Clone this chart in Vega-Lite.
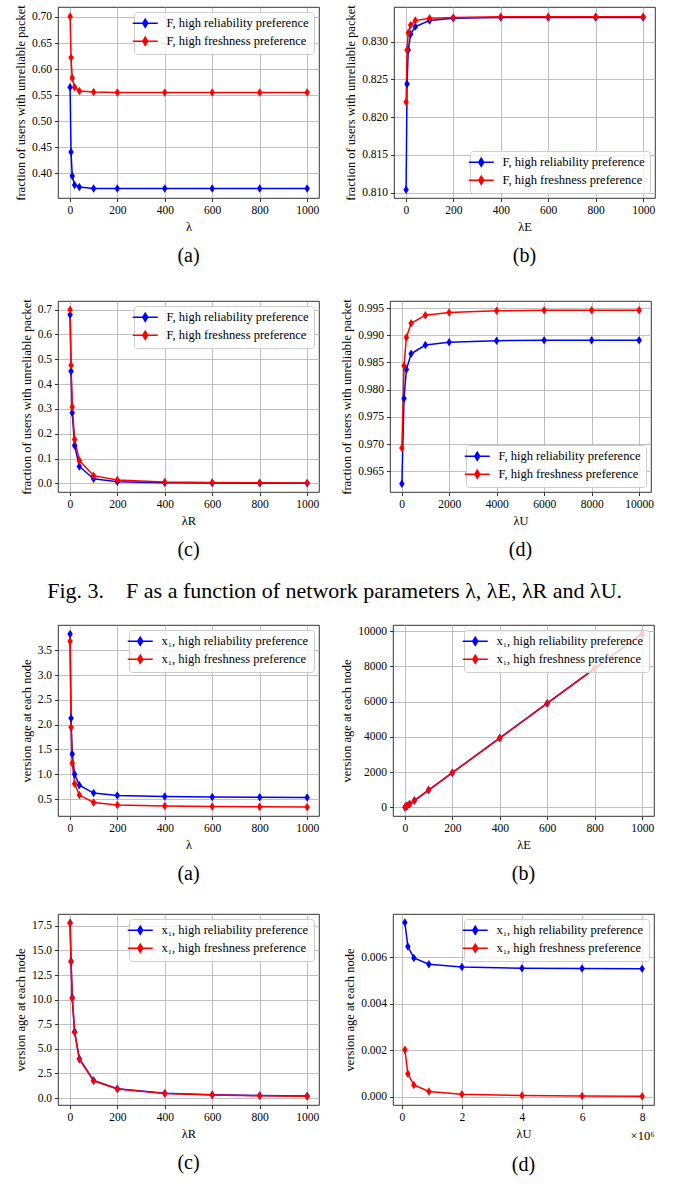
{
  "$schema": "https://vega.github.io/schema/vega-lite/v6.json",
  "padding": {"left": 13, "top": 4, "right": 5, "bottom": 5},
  "background": "white",
  "datasets": {
    "fA": [
      {"x": 1, "y": 0.565, "series": "F, high reliability preference"},
      {"x": 5, "y": 0.441, "series": "F, high reliability preference"},
      {"x": 10, "y": 0.395, "series": "F, high reliability preference"},
      {"x": 20, "y": 0.378, "series": "F, high reliability preference"},
      {"x": 40, "y": 0.374, "series": "F, high reliability preference"},
      {"x": 100, "y": 0.371, "series": "F, high reliability preference"},
      {"x": 200, "y": 0.371, "series": "F, high reliability preference"},
      {"x": 400, "y": 0.371, "series": "F, high reliability preference"},
      {"x": 600, "y": 0.371, "series": "F, high reliability preference"},
      {"x": 800, "y": 0.371, "series": "F, high reliability preference"},
      {"x": 1000, "y": 0.371, "series": "F, high reliability preference"},
      {"x": 1, "y": 0.701, "series": "F, high freshness preference"},
      {"x": 5, "y": 0.622, "series": "F, high freshness preference"},
      {"x": 10, "y": 0.583, "series": "F, high freshness preference"},
      {"x": 20, "y": 0.565, "series": "F, high freshness preference"},
      {"x": 40, "y": 0.558, "series": "F, high freshness preference"},
      {"x": 100, "y": 0.556, "series": "F, high freshness preference"},
      {"x": 200, "y": 0.555, "series": "F, high freshness preference"},
      {"x": 400, "y": 0.555, "series": "F, high freshness preference"},
      {"x": 600, "y": 0.555, "series": "F, high freshness preference"},
      {"x": 800, "y": 0.555, "series": "F, high freshness preference"},
      {"x": 1000, "y": 0.555, "series": "F, high freshness preference"}
    ],
    "fB": [
      {"x": 1, "y": 0.8104, "series": "F, high reliability preference"},
      {"x": 5, "y": 0.8244, "series": "F, high reliability preference"},
      {"x": 10, "y": 0.8289, "series": "F, high reliability preference"},
      {"x": 20, "y": 0.8310, "series": "F, high reliability preference"},
      {"x": 40, "y": 0.8320, "series": "F, high reliability preference"},
      {"x": 100, "y": 0.8328, "series": "F, high reliability preference"},
      {"x": 200, "y": 0.8331, "series": "F, high reliability preference"},
      {"x": 400, "y": 0.8332, "series": "F, high reliability preference"},
      {"x": 600, "y": 0.8332, "series": "F, high reliability preference"},
      {"x": 800, "y": 0.8332, "series": "F, high reliability preference"},
      {"x": 1000, "y": 0.8332, "series": "F, high reliability preference"},
      {"x": 1, "y": 0.8220, "series": "F, high freshness preference"},
      {"x": 5, "y": 0.8289, "series": "F, high freshness preference"},
      {"x": 10, "y": 0.8312, "series": "F, high freshness preference"},
      {"x": 20, "y": 0.8322, "series": "F, high freshness preference"},
      {"x": 40, "y": 0.8328, "series": "F, high freshness preference"},
      {"x": 100, "y": 0.8331, "series": "F, high freshness preference"},
      {"x": 200, "y": 0.8332, "series": "F, high freshness preference"},
      {"x": 400, "y": 0.8333, "series": "F, high freshness preference"},
      {"x": 600, "y": 0.8333, "series": "F, high freshness preference"},
      {"x": 800, "y": 0.8333, "series": "F, high freshness preference"},
      {"x": 1000, "y": 0.8333, "series": "F, high freshness preference"}
    ],
    "fC": [
      {"x": 1, "y": 0.680, "series": "F, high reliability preference"},
      {"x": 5, "y": 0.452, "series": "F, high reliability preference"},
      {"x": 10, "y": 0.284, "series": "F, high reliability preference"},
      {"x": 20, "y": 0.152, "series": "F, high reliability preference"},
      {"x": 40, "y": 0.068, "series": "F, high reliability preference"},
      {"x": 100, "y": 0.018, "series": "F, high reliability preference"},
      {"x": 200, "y": 0.006, "series": "F, high reliability preference"},
      {"x": 400, "y": 0.002, "series": "F, high reliability preference"},
      {"x": 600, "y": 0.001, "series": "F, high reliability preference"},
      {"x": 800, "y": 0.0005, "series": "F, high reliability preference"},
      {"x": 1000, "y": 0.0003, "series": "F, high reliability preference"},
      {"x": 1, "y": 0.700, "series": "F, high freshness preference"},
      {"x": 5, "y": 0.476, "series": "F, high freshness preference"},
      {"x": 10, "y": 0.308, "series": "F, high freshness preference"},
      {"x": 20, "y": 0.177, "series": "F, high freshness preference"},
      {"x": 40, "y": 0.092, "series": "F, high freshness preference"},
      {"x": 100, "y": 0.031, "series": "F, high freshness preference"},
      {"x": 200, "y": 0.013, "series": "F, high freshness preference"},
      {"x": 400, "y": 0.005, "series": "F, high freshness preference"},
      {"x": 600, "y": 0.003, "series": "F, high freshness preference"},
      {"x": 800, "y": 0.002, "series": "F, high freshness preference"},
      {"x": 1000, "y": 0.0015, "series": "F, high freshness preference"}
    ],
    "fD": [
      {"x": 10, "y": 0.9627, "series": "F, high reliability preference"},
      {"x": 100, "y": 0.9784, "series": "F, high reliability preference"},
      {"x": 200, "y": 0.9837, "series": "F, high reliability preference"},
      {"x": 400, "y": 0.9866, "series": "F, high reliability preference"},
      {"x": 1000, "y": 0.9882, "series": "F, high reliability preference"},
      {"x": 2000, "y": 0.9887, "series": "F, high reliability preference"},
      {"x": 4000, "y": 0.9890, "series": "F, high reliability preference"},
      {"x": 6000, "y": 0.9891, "series": "F, high reliability preference"},
      {"x": 8000, "y": 0.9891, "series": "F, high reliability preference"},
      {"x": 10000, "y": 0.9891, "series": "F, high reliability preference"},
      {"x": 10, "y": 0.9693, "series": "F, high freshness preference"},
      {"x": 100, "y": 0.9844, "series": "F, high freshness preference"},
      {"x": 200, "y": 0.9896, "series": "F, high freshness preference"},
      {"x": 400, "y": 0.9922, "series": "F, high freshness preference"},
      {"x": 1000, "y": 0.9937, "series": "F, high freshness preference"},
      {"x": 2000, "y": 0.9942, "series": "F, high freshness preference"},
      {"x": 4000, "y": 0.9945, "series": "F, high freshness preference"},
      {"x": 6000, "y": 0.9946, "series": "F, high freshness preference"},
      {"x": 8000, "y": 0.9946, "series": "F, high freshness preference"},
      {"x": 10000, "y": 0.9946, "series": "F, high freshness preference"}
    ],
    "fE": [
      {"x": 1, "y": 3.83, "series": "x₁, high reliability preference"},
      {"x": 5, "y": 2.13, "series": "x₁, high reliability preference"},
      {"x": 10, "y": 1.41, "series": "x₁, high reliability preference"},
      {"x": 20, "y": 1.00, "series": "x₁, high reliability preference"},
      {"x": 40, "y": 0.78, "series": "x₁, high reliability preference"},
      {"x": 100, "y": 0.62, "series": "x₁, high reliability preference"},
      {"x": 200, "y": 0.57, "series": "x₁, high reliability preference"},
      {"x": 400, "y": 0.55, "series": "x₁, high reliability preference"},
      {"x": 600, "y": 0.54, "series": "x₁, high reliability preference"},
      {"x": 800, "y": 0.535, "series": "x₁, high reliability preference"},
      {"x": 1000, "y": 0.53, "series": "x₁, high reliability preference"},
      {"x": 1, "y": 3.68, "series": "x₁, high freshness preference"},
      {"x": 5, "y": 1.95, "series": "x₁, high freshness preference"},
      {"x": 10, "y": 1.22, "series": "x₁, high freshness preference"},
      {"x": 20, "y": 0.81, "series": "x₁, high freshness preference"},
      {"x": 40, "y": 0.58, "series": "x₁, high freshness preference"},
      {"x": 100, "y": 0.43, "series": "x₁, high freshness preference"},
      {"x": 200, "y": 0.38, "series": "x₁, high freshness preference"},
      {"x": 400, "y": 0.36, "series": "x₁, high freshness preference"},
      {"x": 600, "y": 0.35, "series": "x₁, high freshness preference"},
      {"x": 800, "y": 0.345, "series": "x₁, high freshness preference"},
      {"x": 1000, "y": 0.34, "series": "x₁, high freshness preference"}
    ],
    "fF": [
      {"x": 1, "y": 10, "series": "x₁, high reliability preference"},
      {"x": 5, "y": 49, "series": "x₁, high reliability preference"},
      {"x": 10, "y": 99, "series": "x₁, high reliability preference"},
      {"x": 20, "y": 197, "series": "x₁, high reliability preference"},
      {"x": 40, "y": 394, "series": "x₁, high reliability preference"},
      {"x": 100, "y": 986, "series": "x₁, high reliability preference"},
      {"x": 200, "y": 1970, "series": "x₁, high reliability preference"},
      {"x": 400, "y": 3940, "series": "x₁, high reliability preference"},
      {"x": 600, "y": 5910, "series": "x₁, high reliability preference"},
      {"x": 800, "y": 7880, "series": "x₁, high reliability preference"},
      {"x": 1000, "y": 9850, "series": "x₁, high reliability preference"},
      {"x": 1, "y": 10, "series": "x₁, high freshness preference"},
      {"x": 5, "y": 49, "series": "x₁, high freshness preference"},
      {"x": 10, "y": 98, "series": "x₁, high freshness preference"},
      {"x": 20, "y": 196, "series": "x₁, high freshness preference"},
      {"x": 40, "y": 392, "series": "x₁, high freshness preference"},
      {"x": 100, "y": 984, "series": "x₁, high freshness preference"},
      {"x": 200, "y": 1966, "series": "x₁, high freshness preference"},
      {"x": 400, "y": 3932, "series": "x₁, high freshness preference"},
      {"x": 600, "y": 5898, "series": "x₁, high freshness preference"},
      {"x": 800, "y": 7864, "series": "x₁, high freshness preference"},
      {"x": 1000, "y": 9830, "series": "x₁, high freshness preference"}
    ],
    "fG": [
      {"x": 1, "y": 17.80, "series": "x₁, high reliability preference"},
      {"x": 5, "y": 13.90, "series": "x₁, high reliability preference"},
      {"x": 10, "y": 10.20, "series": "x₁, high reliability preference"},
      {"x": 20, "y": 6.75, "series": "x₁, high reliability preference"},
      {"x": 40, "y": 4.00, "series": "x₁, high reliability preference"},
      {"x": 100, "y": 1.80, "series": "x₁, high reliability preference"},
      {"x": 200, "y": 0.95, "series": "x₁, high reliability preference"},
      {"x": 400, "y": 0.50, "series": "x₁, high reliability preference"},
      {"x": 600, "y": 0.35, "series": "x₁, high reliability preference"},
      {"x": 800, "y": 0.27, "series": "x₁, high reliability preference"},
      {"x": 1000, "y": 0.22, "series": "x₁, high reliability preference"},
      {"x": 1, "y": 17.75, "series": "x₁, high freshness preference"},
      {"x": 5, "y": 13.85, "series": "x₁, high freshness preference"},
      {"x": 10, "y": 10.15, "series": "x₁, high freshness preference"},
      {"x": 20, "y": 6.70, "series": "x₁, high freshness preference"},
      {"x": 40, "y": 3.95, "series": "x₁, high freshness preference"},
      {"x": 100, "y": 1.75, "series": "x₁, high freshness preference"},
      {"x": 200, "y": 0.92, "series": "x₁, high freshness preference"},
      {"x": 400, "y": 0.46, "series": "x₁, high freshness preference"},
      {"x": 600, "y": 0.31, "series": "x₁, high freshness preference"},
      {"x": 800, "y": 0.23, "series": "x₁, high freshness preference"},
      {"x": 1000, "y": 0.18, "series": "x₁, high freshness preference"}
    ],
    "fH": [
      {"x": 100000, "y": 0.00748, "series": "x₁, high reliability preference"},
      {"x": 200000, "y": 0.00645, "series": "x₁, high reliability preference"},
      {"x": 400000, "y": 0.00596, "series": "x₁, high reliability preference"},
      {"x": 900000, "y": 0.00569, "series": "x₁, high reliability preference"},
      {"x": 2000000, "y": 0.00557, "series": "x₁, high reliability preference"},
      {"x": 4000000, "y": 0.00552, "series": "x₁, high reliability preference"},
      {"x": 6000000, "y": 0.00551, "series": "x₁, high reliability preference"},
      {"x": 8000000, "y": 0.00550, "series": "x₁, high reliability preference"},
      {"x": 100000, "y": 0.00201, "series": "x₁, high freshness preference"},
      {"x": 200000, "y": 0.00098, "series": "x₁, high freshness preference"},
      {"x": 400000, "y": 0.00050, "series": "x₁, high freshness preference"},
      {"x": 900000, "y": 0.00022, "series": "x₁, high freshness preference"},
      {"x": 2000000, "y": 0.00010, "series": "x₁, high freshness preference"},
      {"x": 4000000, "y": 0.00005, "series": "x₁, high freshness preference"},
      {"x": 6000000, "y": 0.00003, "series": "x₁, high freshness preference"},
      {"x": 8000000, "y": 0.00002, "series": "x₁, high freshness preference"}
    ]
  },
  "resolve": {"scale": {"stroke": "independent", "fill": "independent"}, "legend": {"stroke": "independent", "fill": "independent"}},
  "spacing": 22,
  "vconcat": [
    {
      "spacing": 32,
      "resolve": {"scale": {"stroke": "independent", "fill": "independent"}, "legend": {"stroke": "independent", "fill": "independent"}},
      "title": {"text": "Fig. 3.\u00a0\u00a0\u00a0 F as a function of network parameters λ, λE, λR and λU.", "orient": "bottom", "anchor": "middle", "fontSize": 22, "offset": 21},
      "vconcat": [
        {
          "hconcat": [
            {
              "width": 261, "height": 191,
              "data": {"name": "fA"},
              "title": {"text": "(a)", "orient": "bottom", "offset": 13},
              "layer": [
                {"mark": {"type": "line", "strokeWidth": 1.5},
                 "encoding": {
                   "x": {"field": "x", "type": "quantitative", "scale": {"domain": [-50, 1050], "nice": false, "zero": false}, "axis": {"title": "λ", "values": [0, 200, 400, 600, 800, 1000], "tickCount": 20, "format": "d"}},
                   "y": {"field": "y", "type": "quantitative", "scale": {"domain": [0.353, 0.719], "nice": false, "zero": false}, "axis": {"title": "fraction of users with unreliable packet", "values": [0.40, 0.45, 0.50, 0.55, 0.60, 0.65, 0.70], "tickCount": 20, "labelOverlap": false, "format": ".2f"}},
                   "stroke": {"field": "series", "type": "nominal", "scale": {"domain": ["F, high reliability preference", "F, high freshness preference"], "range": ["#0000ff", "#ff0000"]}, "legend": {"title": null, "orient": "top-right", "symbolType": "M-2.5,0L2.5,0M0,-0.8L0.5,0L0,0.8L-0.5,0Z", "symbolSize": 100}}
                 }},
                {"mark": {"type": "point", "filled": true, "shape": "M0,-1L0.65,0L0,1L-0.65,0Z", "size": 72, "opacity": 1},
                 "encoding": {
                   "x": {"field": "x", "type": "quantitative"},
                   "y": {"field": "y", "type": "quantitative"},
                   "fill": {"field": "series", "type": "nominal", "scale": {"domain": ["F, high reliability preference", "F, high freshness preference"], "range": ["#0000ff", "#ff0000"]}, "legend": {"title": null, "orient": "top-right", "symbolType": "M-2.5,0L2.5,0M0,-0.8L0.5,0L0,0.8L-0.5,0Z", "symbolSize": 100}}
                 }}
              ]
            },
            {
              "width": 261, "height": 191,
              "data": {"name": "fB"},
              "title": {"text": "(b)", "orient": "bottom", "offset": 13},
              "layer": [
                {"mark": {"type": "line", "strokeWidth": 1.5},
                 "encoding": {
                   "x": {"field": "x", "type": "quantitative", "scale": {"domain": [-50, 1050], "nice": false, "zero": false}, "axis": {"title": "λE", "values": [0, 200, 400, 600, 800, 1000], "tickCount": 20, "format": "d"}},
                   "y": {"field": "y", "type": "quantitative", "scale": {"domain": [0.8093, 0.8346], "nice": false, "zero": false}, "axis": {"title": "fraction of users with unreliable packet", "values": [0.810, 0.815, 0.820, 0.825, 0.830], "tickCount": 20, "labelOverlap": false, "format": ".3f"}},
                   "stroke": {"field": "series", "type": "nominal", "scale": {"domain": ["F, high reliability preference", "F, high freshness preference"], "range": ["#0000ff", "#ff0000"]}, "legend": {"title": null, "orient": "bottom-right", "symbolType": "M-2.5,0L2.5,0M0,-0.8L0.5,0L0,0.8L-0.5,0Z", "symbolSize": 100}}
                 }},
                {"mark": {"type": "point", "filled": true, "shape": "M0,-1L0.65,0L0,1L-0.65,0Z", "size": 72, "opacity": 1},
                 "encoding": {
                   "x": {"field": "x", "type": "quantitative"},
                   "y": {"field": "y", "type": "quantitative"},
                   "fill": {"field": "series", "type": "nominal", "scale": {"domain": ["F, high reliability preference", "F, high freshness preference"], "range": ["#0000ff", "#ff0000"]}, "legend": {"title": null, "orient": "bottom-right", "symbolType": "M-2.5,0L2.5,0M0,-0.8L0.5,0L0,0.8L-0.5,0Z", "symbolSize": 100}}
                 }}
              ]
            }
          ],
          "spacing": 24,
          "resolve": {"scale": {"stroke": "independent", "fill": "independent"}, "legend": {"stroke": "independent", "fill": "independent"}}
        },
        {
          "hconcat": [
            {
              "width": 261, "height": 191,
              "data": {"name": "fC"},
              "title": {"text": "(c)", "orient": "bottom", "offset": 13},
              "layer": [
                {"mark": {"type": "line", "strokeWidth": 1.5},
                 "encoding": {
                   "x": {"field": "x", "type": "quantitative", "scale": {"domain": [-50, 1050], "nice": false, "zero": false}, "axis": {"title": "λR", "values": [0, 200, 400, 600, 800, 1000], "tickCount": 20, "format": "d"}},
                   "y": {"field": "y", "type": "quantitative", "scale": {"domain": [-0.035, 0.735], "nice": false, "zero": false}, "axis": {"title": "fraction of users with unreliable packet", "values": [0, 0.1, 0.2, 0.3, 0.4, 0.5, 0.6, 0.7], "tickCount": 20, "labelOverlap": false, "format": ".1f"}},
                   "stroke": {"field": "series", "type": "nominal", "scale": {"domain": ["F, high reliability preference", "F, high freshness preference"], "range": ["#0000ff", "#ff0000"]}, "legend": {"title": null, "orient": "top-right", "symbolType": "M-2.5,0L2.5,0M0,-0.8L0.5,0L0,0.8L-0.5,0Z", "symbolSize": 100}}
                 }},
                {"mark": {"type": "point", "filled": true, "shape": "M0,-1L0.65,0L0,1L-0.65,0Z", "size": 72, "opacity": 1},
                 "encoding": {
                   "x": {"field": "x", "type": "quantitative"},
                   "y": {"field": "y", "type": "quantitative"},
                   "fill": {"field": "series", "type": "nominal", "scale": {"domain": ["F, high reliability preference", "F, high freshness preference"], "range": ["#0000ff", "#ff0000"]}, "legend": {"title": null, "orient": "top-right", "symbolType": "M-2.5,0L2.5,0M0,-0.8L0.5,0L0,0.8L-0.5,0Z", "symbolSize": 100}}
                 }}
              ]
            },
            {
              "width": 261, "height": 191,
              "data": {"name": "fD"},
              "title": {"text": "(d)", "orient": "bottom", "offset": 13},
              "layer": [
                {"mark": {"type": "line", "strokeWidth": 1.5},
                 "encoding": {
                   "x": {"field": "x", "type": "quantitative", "scale": {"domain": [-490, 10500], "nice": false, "zero": false}, "axis": {"title": "λU", "values": [0, 2000, 4000, 6000, 8000, 10000], "tickCount": 20, "format": "d"}},
                   "y": {"field": "y", "type": "quantitative", "scale": {"domain": [0.9612, 0.9963], "nice": false, "zero": false}, "axis": {"title": "fraction of users with unreliable packet", "values": [0.965, 0.970, 0.975, 0.980, 0.985, 0.990, 0.995], "tickCount": 20, "labelOverlap": false, "format": ".3f"}},
                   "stroke": {"field": "series", "type": "nominal", "scale": {"domain": ["F, high reliability preference", "F, high freshness preference"], "range": ["#0000ff", "#ff0000"]}, "legend": {"title": null, "orient": "bottom-right", "symbolType": "M-2.5,0L2.5,0M0,-0.8L0.5,0L0,0.8L-0.5,0Z", "symbolSize": 100}}
                 }},
                {"mark": {"type": "point", "filled": true, "shape": "M0,-1L0.65,0L0,1L-0.65,0Z", "size": 72, "opacity": 1},
                 "encoding": {
                   "x": {"field": "x", "type": "quantitative"},
                   "y": {"field": "y", "type": "quantitative"},
                   "fill": {"field": "series", "type": "nominal", "scale": {"domain": ["F, high reliability preference", "F, high freshness preference"], "range": ["#0000ff", "#ff0000"]}, "legend": {"title": null, "orient": "bottom-right", "symbolType": "M-2.5,0L2.5,0M0,-0.8L0.5,0L0,0.8L-0.5,0Z", "symbolSize": 100}}
                 }}
              ]
            }
          ],
          "spacing": 20,
          "resolve": {"scale": {"stroke": "independent", "fill": "independent"}, "legend": {"stroke": "independent", "fill": "independent"}}
        }
      ]
    },
    {
      "spacing": 29,
      "resolve": {"scale": {"stroke": "independent", "fill": "independent"}, "legend": {"stroke": "independent", "fill": "independent"}},
      "vconcat": [
        {
          "hconcat": [
            {
              "width": 261, "height": 191,
              "data": {"name": "fE"},
              "title": {"text": "(a)", "orient": "bottom", "offset": 13},
              "layer": [
                {"mark": {"type": "line", "strokeWidth": 1.5},
                 "encoding": {
                   "x": {"field": "x", "type": "quantitative", "scale": {"domain": [-50, 1050], "nice": false, "zero": false}, "axis": {"title": "λ", "values": [0, 200, 400, 600, 800, 1000], "tickCount": 20, "format": "d"}},
                   "y": {"field": "y", "type": "quantitative", "scale": {"domain": [0.158, 4.01], "nice": false, "zero": false}, "axis": {"title": "version age at each node", "values": [0.5, 1.0, 1.5, 2.0, 2.5, 3.0, 3.5], "tickCount": 20, "labelOverlap": false, "format": ".1f"}},
                   "stroke": {"field": "series", "type": "nominal", "scale": {"domain": ["x₁, high reliability preference", "x₁, high freshness preference"], "range": ["#0000ff", "#ff0000"]}, "legend": {"title": null, "orient": "top-right", "symbolType": "M-2.5,0L2.5,0M0,-0.8L0.5,0L0,0.8L-0.5,0Z", "symbolSize": 100}}
                 }},
                {"mark": {"type": "point", "filled": true, "shape": "M0,-1L0.65,0L0,1L-0.65,0Z", "size": 72, "opacity": 1},
                 "encoding": {
                   "x": {"field": "x", "type": "quantitative"},
                   "y": {"field": "y", "type": "quantitative"},
                   "fill": {"field": "series", "type": "nominal", "scale": {"domain": ["x₁, high reliability preference", "x₁, high freshness preference"], "range": ["#0000ff", "#ff0000"]}, "legend": {"title": null, "orient": "top-right", "symbolType": "M-2.5,0L2.5,0M0,-0.8L0.5,0L0,0.8L-0.5,0Z", "symbolSize": 100}}
                 }}
              ]
            },
            {
              "width": 261, "height": 191,
              "data": {"name": "fF"},
              "title": {"text": "(b)", "orient": "bottom", "offset": 13},
              "layer": [
                {"mark": {"type": "line", "strokeWidth": 1.5},
                 "encoding": {
                   "x": {"field": "x", "type": "quantitative", "scale": {"domain": [-50, 1050], "nice": false, "zero": false}, "axis": {"title": "λE", "values": [0, 200, 400, 600, 800, 1000], "tickCount": 20, "format": "d"}},
                   "y": {"field": "y", "type": "quantitative", "scale": {"domain": [-483, 10340], "nice": false, "zero": false}, "axis": {"title": "version age at each node", "values": [0, 2000, 4000, 6000, 8000, 10000], "tickCount": 20, "labelOverlap": false, "format": "d"}},
                   "stroke": {"field": "series", "type": "nominal", "scale": {"domain": ["x₁, high reliability preference", "x₁, high freshness preference"], "range": ["#0000ff", "#ff0000"]}, "legend": {"title": null, "orient": "top-right", "symbolType": "M-2.5,0L2.5,0M0,-0.8L0.5,0L0,0.8L-0.5,0Z", "symbolSize": 100}}
                 }},
                {"mark": {"type": "point", "filled": true, "shape": "M0,-1L0.65,0L0,1L-0.65,0Z", "size": 72, "opacity": 1},
                 "encoding": {
                   "x": {"field": "x", "type": "quantitative"},
                   "y": {"field": "y", "type": "quantitative"},
                   "fill": {"field": "series", "type": "nominal", "scale": {"domain": ["x₁, high reliability preference", "x₁, high freshness preference"], "range": ["#0000ff", "#ff0000"]}, "legend": {"title": null, "orient": "top-right", "symbolType": "M-2.5,0L2.5,0M0,-0.8L0.5,0L0,0.8L-0.5,0Z", "symbolSize": 100}}
                 }}
              ]
            }
          ],
          "spacing": 20,
          "resolve": {"scale": {"stroke": "independent", "fill": "independent"}, "legend": {"stroke": "independent", "fill": "independent"}}
        },
        {
          "hconcat": [
            {
              "width": 261, "height": 191,
              "data": {"name": "fG"},
              "title": {"text": "(c)", "orient": "bottom", "offset": 13},
              "layer": [
                {"mark": {"type": "line", "strokeWidth": 1.5},
                 "encoding": {
                   "x": {"field": "x", "type": "quantitative", "scale": {"domain": [-50, 1050], "nice": false, "zero": false}, "axis": {"title": "λR", "values": [0, 200, 400, 600, 800, 1000], "tickCount": 20, "format": "d"}},
                   "y": {"field": "y", "type": "quantitative", "scale": {"domain": [-0.7, 18.7], "nice": false, "zero": false}, "axis": {"title": "version age at each node", "values": [0, 2.5, 5, 7.5, 10, 12.5, 15, 17.5], "tickCount": 20, "labelOverlap": false, "format": ".1f"}},
                   "stroke": {"field": "series", "type": "nominal", "scale": {"domain": ["x₁, high reliability preference", "x₁, high freshness preference"], "range": ["#0000ff", "#ff0000"]}, "legend": {"title": null, "orient": "top-right", "symbolType": "M-2.5,0L2.5,0M0,-0.8L0.5,0L0,0.8L-0.5,0Z", "symbolSize": 100}}
                 }},
                {"mark": {"type": "point", "filled": true, "shape": "M0,-1L0.65,0L0,1L-0.65,0Z", "size": 72, "opacity": 1},
                 "encoding": {
                   "x": {"field": "x", "type": "quantitative"},
                   "y": {"field": "y", "type": "quantitative"},
                   "fill": {"field": "series", "type": "nominal", "scale": {"domain": ["x₁, high reliability preference", "x₁, high freshness preference"], "range": ["#0000ff", "#ff0000"]}, "legend": {"title": null, "orient": "top-right", "symbolType": "M-2.5,0L2.5,0M0,-0.8L0.5,0L0,0.8L-0.5,0Z", "symbolSize": 100}}
                 }}
              ]
            },
            {
              "width": 261, "height": 191,
              "data": {"name": "fH"},
              "title": {"text": "(d)", "orient": "bottom", "offset": 13},
              "resolve": {"axis": {"x": "independent"}},
              "layer": [
                {"mark": {"type": "line", "strokeWidth": 1.5},
                 "encoding": {
                   "x": {"field": "x", "type": "quantitative", "scale": {"domain": [-295000, 8395000], "nice": false, "zero": false}, "axis": {"title": "λU", "orient": "bottom", "values": [0, 2000000, 4000000, 6000000, 8000000], "tickCount": 20, "labelExpr": "format(datum.value / 1000000, 'd')"}},
                   "y": {"field": "y", "type": "quantitative", "scale": {"domain": [-0.00036, 0.00785], "nice": false, "zero": false}, "axis": {"title": "version age at each node", "values": [0, 0.002, 0.004, 0.006], "tickCount": 20, "labelOverlap": false, "format": ".3f"}},
                   "stroke": {"field": "series", "type": "nominal", "scale": {"domain": ["x₁, high reliability preference", "x₁, high freshness preference"], "range": ["#0000ff", "#ff0000"]}, "legend": {"title": null, "orient": "top-right", "symbolType": "M-2.5,0L2.5,0M0,-0.8L0.5,0L0,0.8L-0.5,0Z", "symbolSize": 100}}
                 }},
                {"mark": {"type": "point", "filled": true, "shape": "M0,-1L0.65,0L0,1L-0.65,0Z", "size": 72, "opacity": 1},
                 "encoding": {
                   "x": {"field": "x", "type": "quantitative", "axis": {"title": "×10⁶", "orient": "bottom", "titleAnchor": "end", "labels": false, "ticks": false, "domain": false, "grid": false, "titlePadding": 24}},
                   "y": {"field": "y", "type": "quantitative"},
                   "fill": {"field": "series", "type": "nominal", "scale": {"domain": ["x₁, high reliability preference", "x₁, high freshness preference"], "range": ["#0000ff", "#ff0000"]}, "legend": {"title": null, "orient": "top-right", "symbolType": "M-2.5,0L2.5,0M0,-0.8L0.5,0L0,0.8L-0.5,0Z", "symbolSize": 100}}
                 }}
              ]
            }
          ],
          "spacing": 23,
          "resolve": {"scale": {"stroke": "independent", "fill": "independent"}, "legend": {"stroke": "independent", "fill": "independent"}}
        }
      ]
    }
  ],
  "config": {
    "font": "Liberation Serif",
    "view": {"stroke": "#000000", "strokeWidth": 0.8},
    "axis": {
      "grid": true, "gridColor": "#b0b0b0", "gridWidth": 0.8, "domain": false,
      "tickColor": "#000000", "tickSize": 3.5, "tickWidth": 0.8, "labelOverlap": false,
      "labelFont": "Liberation Serif", "labelFontSize": 11.5, "labelColor": "#000000", "labelPadding": 3,
      "titleFont": "Liberation Serif", "titleFontSize": 12.5, "titleFontWeight": "normal", "titleColor": "#000000", "titlePadding": 4
    },
    "legend": {
      "labelFont": "Liberation Serif", "labelFontSize": 12.5, "labelColor": "#000000", "labelLimit": 400,
      "padding": 5, "rowPadding": 3, "offset": 5, "labelOffset": 15,
      "fillColor": "rgba(255,255,255,0.8)", "strokeColor": "#cccccc", "cornerRadius": 3,
      "symbolStrokeWidth": 1.5
    },
    "title": {"font": "Liberation Serif", "fontSize": 20, "fontWeight": "normal", "color": "#000000"}
  }
}
